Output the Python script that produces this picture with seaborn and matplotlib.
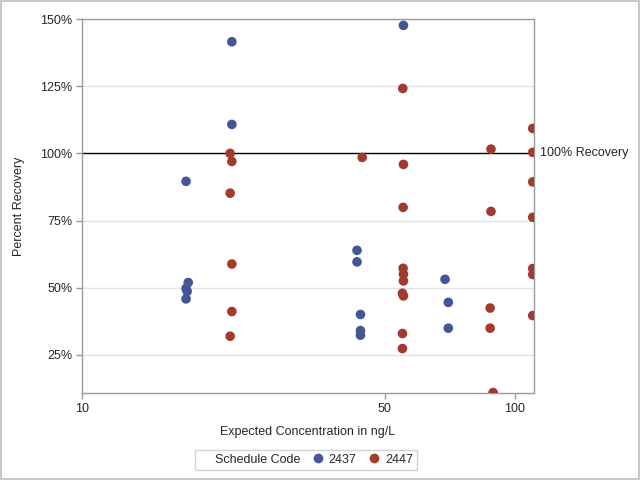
import numpy as np
import pandas as pd
import seaborn as sns
from matplotlib import pyplot as plt
from matplotlib.lines import Line2D
from matplotlib.ticker import PercentFormatter, FixedLocator, NullLocator

conc_2437 = [22.2, 22.2, 17.4, 55.3, 17.6, 17.4, 17.5, 17.4, 43.2, 43.2, 44.0, 44.0, 44.0, 69.0, 70.2, 70.2]
rec_2437 = [1.416, 1.108, 0.896, 1.477, 0.519, 0.497, 0.486, 0.458, 0.639, 0.596, 0.400, 0.340, 0.323, 0.531, 0.445, 0.349]

conc_2447 = [22.0, 22.2, 22.0, 22.2, 22.2, 22.0, 44.4, 55.1, 55.3, 55.2, 55.2, 55.3, 55.3, 55.0, 55.3,
             55.0, 55.0, 88.1, 88.1, 87.7, 87.7, 89.1, 110, 110, 110, 110, 110, 110, 110]
rec_2447 = [1.000, 0.970, 0.852, 0.588, 0.411, 0.319, 0.985, 1.242, 0.959, 0.799, 0.572, 0.550, 0.525, 0.479, 0.469,
            0.329, 0.273, 1.016, 0.784, 0.424, 0.349, 0.109, 1.093, 1.004, 0.894, 0.762, 0.571, 0.549, 0.396]

codes = ['2437', '2447']
colors = {'2437': '#445694', '2447': '#A23A2E'}
x_ticks = [10, 50, 100]
y_ticks = [0.25, 0.5, 0.75, 1.0, 1.25, 1.5]

df = pd.DataFrame({
    'conc': conc_2437 + conc_2447,
    'recovery': rec_2437 + rec_2447,
    'code': ['2437'] * len(conc_2437) + ['2447'] * len(conc_2447),
})

sns.set_style('white')
plt.rcParams['font.family'] = ['Liberation Sans', 'DejaVu Sans']
plt.rcParams['font.size'] = 9

fig = plt.figure(figsize=(6.4, 4.8), dpi=100)
fig.patch.set_edgecolor('#c8c8c8')
fig.patch.set_linewidth(1.5)
ax = fig.add_axes([0.128, 0.181, 0.706, 0.779])

ax.set_xscale('log')
for y in y_ticks:
    if y != 1.0:
        ax.axhline(y, color='#e3e3e3', lw=1, zorder=0)
ax.axhline(1.0, color='black', lw=1, zorder=1)

sns.scatterplot(data=df, x='conc', y='recovery', hue='code', hue_order=codes, palette=colors,
                s=48, linewidth=0, alpha=1, legend=False, ax=ax, zorder=3)

ax.set_xlim(10, 110.6)
ax.set_ylim(0.107, 1.5)
ax.xaxis.set_major_locator(FixedLocator(x_ticks))
ax.xaxis.set_minor_locator(NullLocator())
ax.set_xticklabels([str(t) for t in x_ticks])
ax.set_yticks(y_ticks)
ax.yaxis.set_major_formatter(PercentFormatter(xmax=1, decimals=0))
ax.tick_params(axis='both', direction='out', length=4, width=1, color='#9a9a9a', labelsize=9, pad=3,
               bottom=True, left=True)

for sp in ax.spines.values():
    sp.set_color('#9a9a9a')
    sp.set_linewidth(1)

ax.set_xlabel('Expected Concentration in ng/L', fontsize=9, labelpad=8)
ax.set_ylabel('Percent Recovery', fontsize=9)
ax.yaxis.set_label_coords(-0.127, 0.5)

ax.text(1.013, 1.0, '100% Recovery', transform=ax.get_yaxis_transform(), va='center', ha='left',
        fontsize=9, clip_on=False)

handles = [Line2D([], [], linestyle='none', marker=None)]
labels = ['Schedule Code']
for c in codes:
    handles.append(Line2D([], [], linestyle='none', marker='o', markersize=7, markeredgewidth=0,
                          color=colors[c]))
    labels.append(c)
leg = fig.legend(handles, labels, ncol=3, loc='center', bbox_to_anchor=(0.478, 0.042),
                 frameon=True, fancybox=False, fontsize=9, handlelength=0.8, handletextpad=0.5,
                 columnspacing=1.0, borderpad=0.3, edgecolor='#c8c8c8')
leg.get_frame().set_linewidth(1)

fig.savefig('out.png', dpi=100, edgecolor=fig.get_edgecolor())
